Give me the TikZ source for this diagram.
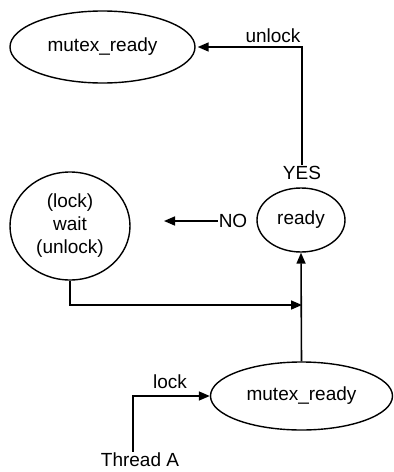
\documentclass[tikz,border=0pt]{standalone}
\usepackage{fontspec}
\setmainfont{Liberation Sans}
\usetikzlibrary{arrows.meta,shapes.geometric}
\begin{document}
\begin{tikzpicture}[x=1pt,y=-1pt,
  every node/.style={font=\fontsize{19}{23}\selectfont},
  oval/.style={draw,ellipse,line width=1.4pt,inner sep=0pt,align=center},
  lbl/.style={inner sep=1pt},
  arr/.style={line width=1.6pt,-{Triangle[length=11pt,width=9pt]}}]
\useasboundingbox (0,0) rectangle (394,472);
\node[oval,minimum width=185pt,minimum height=72pt] (m1) at (102.5,47) {mutex\_ready};
\node[oval,minimum width=88pt,minimum height=64pt] (r) at (301,220) {ready};
\node[oval,minimum width=120pt,minimum height=108pt] (w) at (70,226) {(lock)\\wait\\(unlock)};
\node[oval,minimum width=182pt,minimum height=68pt] (m2) at (301.5,396) {mutex\_ready};
\node[lbl] (yes) at (302,173) {YES};
\node[lbl] (no) at (233,221) {NO};
\node[lbl] (unl) at (273,36) {unlock};
\node[lbl] (lk) at (170,382) {lock};
\node[lbl] (t) at (140,460) {Thread A};
\coordinate (noend) at (164,221);
\coordinate (join) at (302,305);
\draw[arr,shorten >=2pt] (yes.north) |- (m1.east);
\draw[arr] (no.west) -- (noend);
\draw[arr] (w.south) |- (join);
\draw[arr] (m2.north) -- (r.south);
\draw[arr] ([xshift=-7pt]t.north) |- (m2.west);
\end{tikzpicture}
\end{document}
